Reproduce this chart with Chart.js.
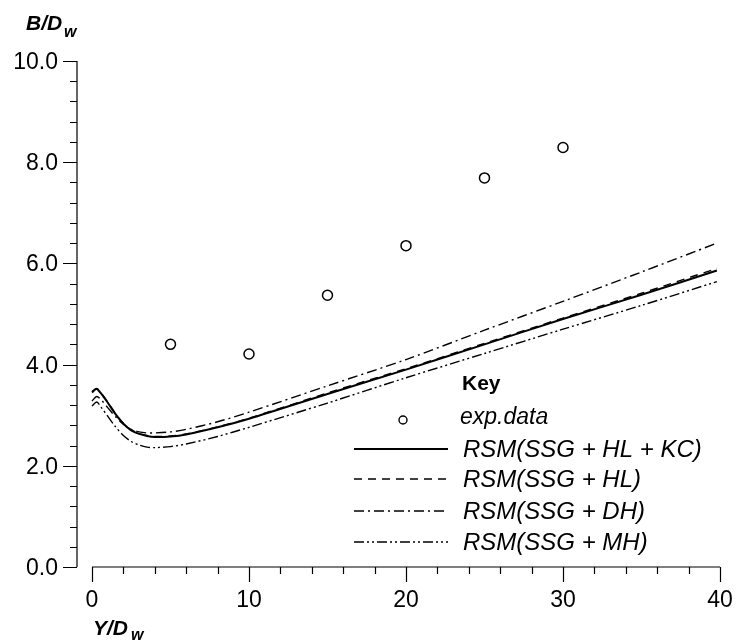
<!DOCTYPE html>
<html>
<head>
<meta charset="utf-8">
<script src="https://cdn.jsdelivr.net/npm/chart.js@4/dist/chart.umd.min.js"></script>
<style>
  html, body { margin: 0; padding: 0; background: #fff; }
  #wrap { width: 739px; height: 641px; }
</style>
</head>
<body>
<div id="wrap"><canvas id="chart" width="739" height="641"></canvas></div>
<script>
// measured data
const expX = [5, 10, 15, 20, 25, 30];
const expY = [4.40, 4.21, 5.37, 6.35, 7.69, 8.29];

const simX = [0, 0.3, 0.6, 1, 1.5, 2, 2.5, 3, 3.5, 4, 5, 6, 8, 10, 15, 20, 25, 30, 35, 39.8];
const kcY = [3.45, 3.52, 3.42, 3.25, 3.02, 2.83, 2.70, 2.63, 2.59, 2.57, 2.58, 2.62, 2.76, 2.93, 3.42, 3.90, 4.40, 4.90, 5.38, 5.86];
const hlY = [3.47, 3.53, 3.43, 3.26, 3.03, 2.84, 2.71, 2.64, 2.60, 2.58, 2.59, 2.63, 2.77, 2.94, 3.44, 3.92, 4.42, 4.92, 5.41, 5.90];
const dhY = [3.28, 3.37, 3.30, 3.15, 2.97, 2.82, 2.72, 2.67, 2.65, 2.65, 2.67, 2.72, 2.87, 3.06, 3.58, 4.10, 4.68, 5.25, 5.83, 6.40];
const mhY = [3.18, 3.26, 3.15, 2.98, 2.77, 2.60, 2.48, 2.41, 2.37, 2.36, 2.38, 2.43, 2.58, 2.76, 3.24, 3.74, 4.22, 4.70, 5.17, 5.64];

const xTicks = [0, 10, 20, 30, 40];
const yTicks = [0, 2, 4, 6, 8, 10];
const yTickLabels = ['0.0', '2.0', '4.0', '6.0', '8.0', '10.0'];

const legendLabels = ['exp.data', 'RSM(SSG + HL + KC)', 'RSM(SSG + HL)', 'RSM(SSG + DH)', 'RSM(SSG + MH)'];

function pts(xs, ys) {
  return xs.map((x, i) => ({ x: x, y: ys[i] }));
}

const lineStyles = [
  { width: 2, dash: [] },
  { width: 1.4, dash: [8, 6] },
  { width: 1.4, dash: [10, 4, 2, 4] },
  { width: 1.4, dash: [10, 3, 2, 3, 2, 3] }
];

const axesPlugin = {
  id: 'axesPlugin',
  afterDraw(chart) {
    const ctx = chart.ctx;
    const xs = chart.scales.x, ys = chart.scales.y;
    const axisX = chart.chartArea.left;
    const y0 = ys.getPixelForValue(0);
    ctx.save();
    ctx.strokeStyle = '#000';
    ctx.fillStyle = '#000';
    ctx.lineWidth = 1.2;

    // y axis
    ctx.beginPath();
    ctx.moveTo(axisX, ys.getPixelForValue(10));
    ctx.lineTo(axisX, y0);
    for (let i = 0; i <= 25; i++) {
      const v = i * 0.4;
      const py = Math.round(ys.getPixelForValue(v)) + 0.5;
      const len = (i % 5 === 0) ? 14 : 7;
      ctx.moveTo(axisX, py);
      ctx.lineTo(axisX - len, py);
    }
    ctx.stroke();

    // x axis
    ctx.beginPath();
    ctx.moveTo(xs.getPixelForValue(0), y0);
    ctx.lineTo(xs.getPixelForValue(40), y0);
    for (let v = 0; v <= 40; v += 2) {
      const px = Math.round(xs.getPixelForValue(v)) + 0.5;
      const len = (v % 10 === 0) ? 15 : 7;
      ctx.moveTo(px, y0);
      ctx.lineTo(px, y0 + len);
    }
    ctx.stroke();

    // tick labels
    ctx.font = '23px "Liberation Sans", Arial, sans-serif';
    ctx.textAlign = 'right';
    ctx.textBaseline = 'alphabetic';
    yTicks.forEach((v, i) => {
      ctx.fillText(yTickLabels[i], 58, ys.getPixelForValue(v) + 8);
    });
    ctx.textAlign = 'center';
    xTicks.forEach(v => {
      ctx.fillText(String(v), xs.getPixelForValue(v), 607);
    });

    // axis titles
    ctx.textAlign = 'left';
    ctx.font = 'italic bold 21px "Liberation Sans", Arial, sans-serif';
    ctx.fillText('B/D', 26, 30);
    ctx.font = 'italic bold 16px "Liberation Sans", Arial, sans-serif';
    ctx.fillText('w', 64, 37);
    ctx.font = 'italic bold 21px "Liberation Sans", Arial, sans-serif';
    ctx.fillText('Y/D', 93, 635);
    ctx.font = 'italic bold 16px "Liberation Sans", Arial, sans-serif';
    ctx.fillText('w', 131, 640);

    // legend
    ctx.font = 'bold 21px "Liberation Sans", Arial, sans-serif';
    ctx.fillText('Key', 462, 390);
    ctx.font = 'italic 23px "Liberation Sans", Arial, sans-serif';
    ctx.fillText(legendLabels[0], 460, 424);
    ctx.lineWidth = 1.4;
    ctx.beginPath();
    ctx.arc(403, 420, 4, 0, Math.PI * 2);
    ctx.stroke();
    const rowY = [449, 479, 511, 542];
    ctx.font = 'italic 24px "Liberation Sans", Arial, sans-serif';
    for (let i = 0; i < 4; i++) {
      ctx.lineWidth = lineStyles[i].width;
      ctx.setLineDash(lineStyles[i].dash);
      ctx.beginPath();
      ctx.moveTo(354, rowY[i]);
      ctx.lineTo(448, rowY[i]);
      ctx.stroke();
      ctx.setLineDash([]);
      ctx.fillText(legendLabels[i + 1], 463, rowY[i] + 8);
    }
    ctx.restore();
  }
};

const lineSets = [kcY, hlY, dhY, mhY].map((ys, i) => ({
  label: legendLabels[i + 1],
  data: pts(simX, ys),
  showLine: true,
  borderColor: '#000',
  borderWidth: lineStyles[i].width,
  borderDash: lineStyles[i].dash,
  pointRadius: 0,
  tension: 0.3,
  fill: false
}));

new Chart(document.getElementById('chart'), {
  type: 'scatter',
  data: {
    datasets: [{
      label: legendLabels[0],
      data: pts(expX, expY),
      pointStyle: 'circle',
      pointRadius: 5,
      pointBorderWidth: 1.5,
      pointBorderColor: '#000',
      pointBackgroundColor: 'rgba(255,255,255,0)',
      showLine: false
    }].concat(lineSets)
  },
  options: {
    responsive: false,
    animation: false,
    layout: { padding: { left: 77, right: 19, top: 61, bottom: 74 } },
    plugins: { legend: { display: false }, tooltip: { enabled: false } },
    scales: {
      x: { type: 'linear', min: -0.955, max: 40, display: false },
      y: { type: 'linear', min: 0, max: 10, display: false }
    }
  },
  plugins: [axesPlugin]
});
</script>
</body>
</html>
